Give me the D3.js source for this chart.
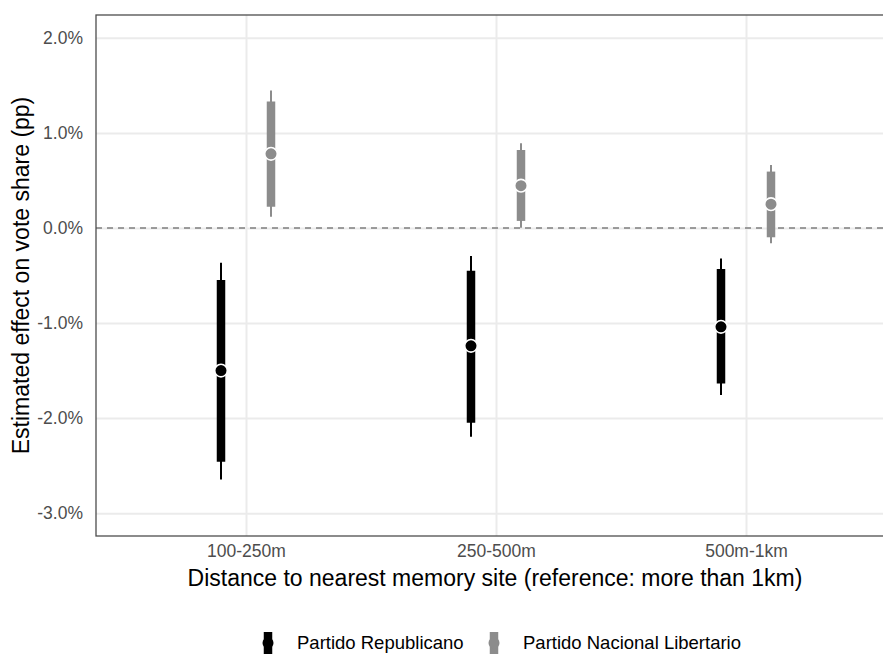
<!DOCTYPE html>
<html>
<head>
<meta charset="utf-8">
<script src="https://cdn.jsdelivr.net/npm/d3@7"></script>
<style>
  body { margin: 0; background: #fff; }
  svg { font-family: "Liberation Sans", Arial, sans-serif; display: block; }
</style>
</head>
<body>
<div id="chart"></div>
<script>
(function () {
    var width = 883,
        height = 655;

    // data
    var categories = ["100-250m", "250-500m", "500m-1km"];
    var parties = ["Partido Republicano", "Partido Nacional Libertario"];
    var partyColors = ["#000000", "#8c8c8c"];
    var estimates = [
        [-1.50, -1.24, -1.04],
        [0.78, 0.445, 0.25]
    ];
    var ci90Low = [
        [-2.46, -2.05, -1.635],
        [0.224, 0.074, -0.098]
    ];
    var ci90High = [
        [-0.547, -0.449, -0.432],
        [1.33, 0.82, 0.593]
    ];
    var ci95Low = [
        [-2.645, -2.197, -1.758],
        [0.119, 0.003, -0.161]
    ];
    var ci95High = [
        [-0.365, -0.295, -0.32],
        [1.445, 0.89, 0.663]
    ];
    var yTicks = [-3, -2, -1, 0, 1, 2];

    var margin = { left: 96, top: 15, right: 896, bottom: 536 };
    var tickFont = "17.5px", titleFont = "23px", legendFont = "18.5px";

    var svg = d3.select("#chart")
        .append("svg")
        .attr("width", width)
        .attr("height", height);

    var x = d3.scaleLinear().domain([0.4, 3.6]).range([margin.left, margin.right]);
    var y = d3.scaleLinear().domain([-3.24, 2.24]).range([margin.bottom, margin.top]);
    var dodge = 0.1;

    var rows = [];
    parties.forEach(function (p, pi) {
        categories.forEach(function (c, ci) {
            rows.push({
                party: pi, cat: ci,
                est: estimates[pi][ci],
                lo90: ci90Low[pi][ci], hi90: ci90High[pi][ci],
                lo95: ci95Low[pi][ci], hi95: ci95High[pi][ci]
            });
        });
    });
    function xPos(d) { return x(d.cat + 1 + (d.party === 0 ? -dodge : dodge)); }

    // gridlines
    svg.append("g")
        .attr("class", "grid-y")
        .attr("transform", "translate(" + margin.left + ",0)")
        .call(d3.axisLeft(y).tickValues(yTicks).tickSize(-(margin.right - margin.left)).tickFormat(""))
        .call(function (g) {
            g.select(".domain").remove();
            g.selectAll("line").attr("stroke", "#ebebeb").attr("stroke-width", 2);
        });
    svg.append("g")
        .attr("class", "grid-x")
        .attr("transform", "translate(0," + margin.bottom + ")")
        .call(d3.axisBottom(x).tickValues([1, 2, 3]).tickSize(-(margin.bottom - margin.top)).tickFormat(""))
        .call(function (g) {
            g.select(".domain").remove();
            g.selectAll("line").attr("stroke", "#ebebeb").attr("stroke-width", 2);
        });

    // zero reference
    svg.append("line")
        .attr("x1", margin.left).attr("x2", margin.right)
        .attr("y1", y(0)).attr("y2", y(0))
        .attr("stroke", "#7f7f7f")
        .attr("stroke-width", 1.4)
        .attr("stroke-dasharray", "6,5");

    // panel border
    svg.append("rect")
        .attr("x", margin.left).attr("y", margin.top)
        .attr("width", margin.right - margin.left)
        .attr("height", margin.bottom - margin.top)
        .attr("fill", "none")
        .attr("stroke", "#4d4d4d")
        .attr("stroke-width", 1.3);

    // tick labels
    var yAxis = svg.append("g")
        .attr("transform", "translate(" + margin.left + ",0)")
        .call(d3.axisLeft(y).tickValues(yTicks).tickSize(0).tickPadding(13)
            .tickFormat(function (d) { return d.toFixed(1) + "%"; }));
    yAxis.select(".domain").remove();
    yAxis.selectAll("text").attr("fill", "#4d4d4d").style("font-size", tickFont)
        .style("font-family", "Liberation Sans, Arial, sans-serif");

    var xAxis = svg.append("g")
        .attr("transform", "translate(0," + margin.bottom + ")")
        .call(d3.axisBottom(x).tickValues([1, 2, 3]).tickSize(0).tickPadding(9)
            .tickFormat(function (d) { return categories[d - 1]; }));
    xAxis.select(".domain").remove();
    xAxis.selectAll("text").attr("fill", "#4d4d4d").style("font-size", tickFont)
        .style("font-family", "Liberation Sans, Arial, sans-serif");

    // axis titles
    svg.append("text")
        .attr("x", (margin.left + margin.right) / 2 - 1)
        .attr("y", 586)
        .attr("text-anchor", "middle")
        .style("font-size", titleFont)
        .text("Distance to nearest memory site (reference: more than 1km)");
    svg.append("text")
        .attr("transform", "translate(29," + ((margin.top + margin.bottom) / 2) + ") rotate(-90)")
        .attr("text-anchor", "middle")
        .style("font-size", titleFont)
        .text("Estimated effect on vote share (pp)");

    // intervals and points
    var marks = svg.selectAll(".est")
        .data(rows)
        .enter().append("g")
        .attr("class", "est");

    marks.append("line")
        .attr("x1", xPos).attr("x2", xPos)
        .attr("y1", d => y(d.lo95)).attr("y2", d => y(d.hi95))
        .attr("stroke", d => partyColors[d.party])
        .attr("stroke-width", 2);
    marks.append("line")
        .attr("x1", xPos).attr("x2", xPos)
        .attr("y1", d => y(d.lo90)).attr("y2", d => y(d.hi90))
        .attr("stroke", d => partyColors[d.party])
        .attr("stroke-width", 8.5);
    marks.append("circle")
        .attr("cx", xPos).attr("cy", d => y(d.est))
        .attr("r", 6.3)
        .attr("fill", d => partyColors[d.party])
        .attr("stroke", "#fff")
        .attr("stroke-width", 1.6);

    // legend
    var legendX = [268, 494];
    var legend = svg.selectAll(".legend")
        .data(parties)
        .enter().append("g")
        .attr("class", "legend")
        .attr("transform", function (d, i) { return "translate(" + legendX[i] + ",643)"; });

    legend.append("line")
        .attr("y1", -11).attr("y2", 11)
        .attr("stroke", (d, i) => partyColors[i])
        .attr("stroke-width", 8.5);
    legend.append("circle")
        .attr("r", 5.5)
        .attr("fill", (d, i) => partyColors[i]);
    legend.append("text")
        .attr("x", 29)
        .attr("dy", ".35em")
        .style("font-size", legendFont)
        .text(d => d);
})();
</script>
</body>
</html>
